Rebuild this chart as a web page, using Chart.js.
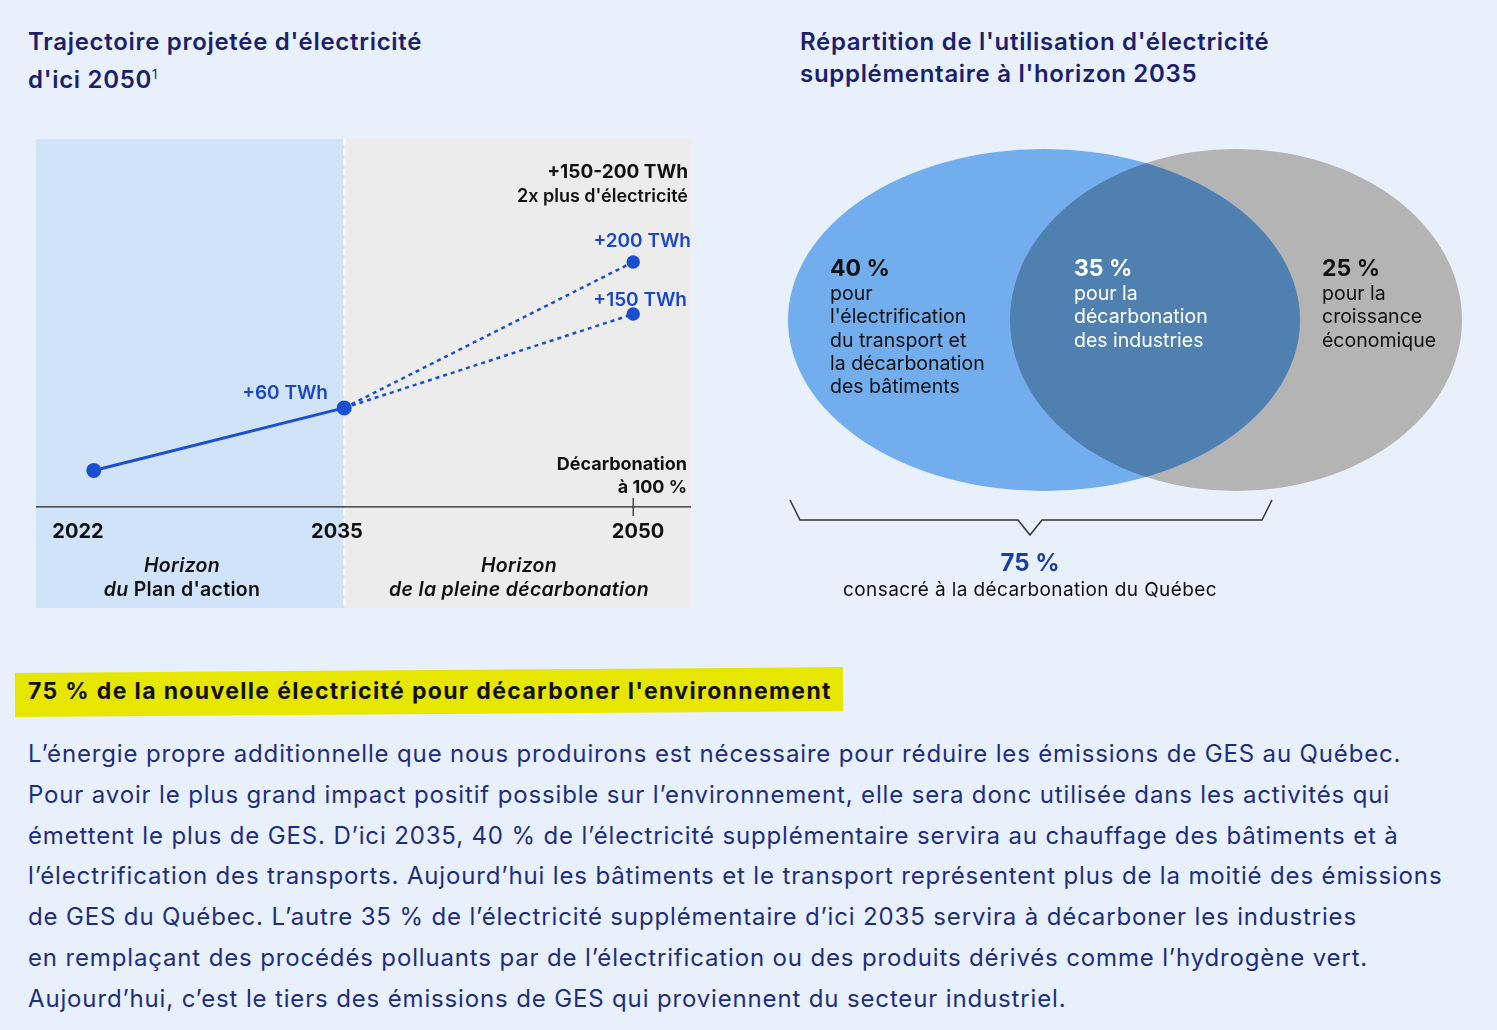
<!DOCTYPE html>
<html><head><meta charset="utf-8">
<script src="https://cdn.jsdelivr.net/npm/chart.js@4"></script>
<style>
body{margin:0;background:#e7f0fb;font-family:Inter,"Noto Sans",sans-serif;color:#1c1f6e;}
.a{position:absolute;white-space:nowrap;}
.t{font-weight:600;font-size:24px;line-height:32px;letter-spacing:0.7px;}
.r{text-align:right;transform:translateX(-100%);}
.c{transform:translateX(-50%);text-align:center;}
.body div{position:absolute;left:28px;font-size:24px;letter-spacing:0.85px;color:#1f2d80;white-space:nowrap;}
.vl{font-size:19.5px;line-height:23.3px;}
.vl b{font-size:23px;display:block;line-height:28px;}
canvas{position:absolute;}
</style></head><body>
<div class="a t" style="left:28px;top:26px">Trajectoire projetée d'électricité<br>d'ici 2050<sup style="font-size:13px;font-weight:400">1</sup></div>
<div class="a t" style="left:800px;top:26px">Répartition de l'utilisation d'électricité<br>supplémentaire à l'horizon 2035</div>
<canvas id="c1" width="673" height="487" style="left:27px;top:130px;width:673px;height:487px"></canvas>
<div class="a r" style="left:688px;top:160px;font-weight:700;font-size:19px;color:#111">+150-200 TWh</div>
<div class="a r" style="left:688px;top:185px;font-weight:600;font-size:18px;color:#111">2x plus d'électricité</div>
<div class="a r" style="left:691px;top:229px;font-weight:600;font-size:19px;color:#1a46c8">+200 TWh</div>
<div class="a r" style="left:687px;top:288px;font-weight:600;font-size:19px;color:#1a46c8">+150 TWh</div>
<div class="a r" style="left:328px;top:381px;font-weight:600;font-size:19px;color:#1a46c8">+60 TWh</div>
<div class="a r" style="left:687px;top:452px;font-weight:700;font-size:18px;color:#111;line-height:23px">Décarbonation<br>à 100 %</div>
<div class="a c" style="left:78px;top:519px;font-weight:700;font-size:20px;color:#111">2022</div>
<div class="a c" style="left:337px;top:519px;font-weight:700;font-size:20px;color:#111">2035</div>
<div class="a c" style="left:638px;top:519px;font-weight:700;font-size:20px;color:#111">2050</div>
<div class="a c" style="left:182px;top:553px;font-weight:600;font-style:italic;font-size:19.5px;color:#111;line-height:24px;letter-spacing:0.3px">Horizon<br>du <span style="font-style:normal">Plan d'action</span></div>
<div class="a c" style="left:519px;top:553px;font-weight:600;font-style:italic;font-size:19.5px;color:#111;line-height:24px;letter-spacing:0.3px">Horizon<br>de la pleine décarbonation</div>

<canvas id="c2" width="730" height="380" style="left:760px;top:130px;width:730px;height:380px"></canvas>
<div class="a vl" style="left:830px;top:254px;color:#111"><b>40 %</b>pour<br>l'électrification<br>du transport et<br>la décarbonation<br>des bâtiments</div>
<div class="a vl" style="left:1074px;top:254px;color:#fff"><b>35 %</b>pour la<br>décarbonation<br>des industries</div>
<div class="a vl" style="left:1322px;top:254px;color:#111"><b>25 %</b>pour la<br>croissance<br>économique</div>
<svg style="position:absolute;left:0;top:0" width="1497" height="560"><polyline points="790,500 800,520 1018,520 1030,535 1042,520 1262,520 1272,500" fill="none" stroke="#333" stroke-width="1.5"/></svg>
<div class="a c" style="left:1030px;top:548px;font-weight:700;font-size:24px;color:#1a3fa0">75 %</div>
<div class="a c" style="left:1030px;top:578px;font-size:19px;color:#111;letter-spacing:0.4px">consacré à la décarbonation du Québec</div>

<div style="position:absolute;left:15px;top:670px;width:828px;height:44px;background:#e6e600;transform:rotate(-0.4deg)"></div>
<div class="a" style="left:28px;top:677px;font-weight:700;font-size:23px;color:#111;letter-spacing:1.35px">75 % de la nouvelle électricité pour décarboner l'environnement</div>
<div class="body">
<div style="top:739px">L’énergie propre additionnelle que nous produirons est nécessaire pour réduire les émissions de GES au Québec.</div>
<div style="top:780px">Pour avoir le plus grand impact positif possible sur l’environnement, elle sera donc utilisée dans les activités qui</div>
<div style="top:821px">émettent le plus de GES. D’ici 2035, 40 % de l’électricité supplémentaire servira au chauffage des bâtiments et à</div>
<div style="top:861px">l’électrification des transports. Aujourd’hui les bâtiments et le transport représentent plus de la moitié des émissions</div>
<div style="top:902px">de GES du Québec. L’autre 35 % de l’électricité supplémentaire d’ici 2035 servira à décarboner les industries</div>
<div style="top:943px">en remplaçant des procédés polluants par de l’électrification ou des produits dérivés comme l’hydrogène vert.</div>
<div style="top:984px">Aujourd’hui, c’est le tiers des émissions de GES qui proviennent du secteur industriel.</div>
</div>
<script>
const years=[2022,2035,2050];
const base=[0,60];
const high=[60,200];
const low=[60,150];
const shares=[40,35,25];
const blue='#1a4fd0';
const bg={id:'bg',beforeDatasetsDraw(ch){const {ctx,chartArea:a,scales:{x,y}}=ch;const m=x.getPixelForValue(2035);
ctx.save();ctx.fillStyle='#d0e3f9';ctx.fillRect(a.left,a.top,m-a.left,a.bottom-a.top);
ctx.fillStyle='#ececec';ctx.fillRect(m,a.top,a.right-m,a.bottom-a.top);
ctx.strokeStyle='#fff';ctx.lineWidth=2;ctx.setLineDash([6,4]);ctx.beginPath();ctx.moveTo(m,a.top);ctx.lineTo(m,a.bottom);ctx.stroke();
ctx.setLineDash([]);const ay=y.getPixelForValue(-35);ctx.strokeStyle='#222';ctx.lineWidth=1.2;ctx.beginPath();ctx.moveTo(a.left,ay);ctx.lineTo(a.right,ay);
const t=x.getPixelForValue(2050);ctx.moveTo(t,ay-9);ctx.lineTo(t,ay+9);ctx.stroke();ctx.restore();}};
new Chart(document.getElementById('c1'),{type:'line',data:{datasets:[
{data:[{x:years[0],y:base[0]},{x:years[1],y:base[1]}],borderColor:blue,backgroundColor:blue,borderWidth:3,pointRadius:6},
{data:[{x:years[1],y:high[0]},{x:years[2],y:high[1]}],borderColor:blue,backgroundColor:blue,borderWidth:2.5,borderDash:[4,4],pointRadius:[0,5.5]},
{data:[{x:years[1],y:low[0]},{x:years[2],y:low[1]}],borderColor:blue,backgroundColor:blue,borderWidth:2.5,borderDash:[4,4],pointRadius:[0,5.5]}]},
options:{responsive:false,animation:false,layout:{padding:0},plugins:{legend:{display:false},tooltip:{enabled:false}},
scales:{x:{type:'linear',min:2019,max:2053,display:false},y:{min:-132,max:318,display:false}}},plugins:[bg]});
const venn={id:'venn',afterDraw(ch){const {ctx,scales:{x,y}}=ch;
const L={cx:x.getPixelForValue(1044),cy:y.getPixelForValue(320),rx:x.getPixelForValue(1300)-x.getPixelForValue(1044),ry:171};
const R={cx:x.getPixelForValue(1236),cy:y.getPixelForValue(320),rx:x.getPixelForValue(1462)-x.getPixelForValue(1236),ry:171};
const e=o=>{ctx.beginPath();ctx.ellipse(o.cx,o.cy,o.rx,o.ry,0,0,Math.PI*2);};
ctx.save();ctx.fillStyle='#b4b4b4';e(R);ctx.fill();ctx.fillStyle='#72adee';e(L);ctx.fill();
e(L);ctx.clip();ctx.fillStyle='#5080b0';e(R);ctx.fill();ctx.restore();}};
new Chart(document.getElementById('c2'),{type:'scatter',data:{datasets:[{data:shares.map((s,i)=>({x:900+i*200,y:320})),pointRadius:0}]},
options:{responsive:false,animation:false,layout:{padding:0},plugins:{legend:{display:false},tooltip:{enabled:false}},
scales:{x:{min:760,max:1490,display:false},y:{min:130,max:510,reverse:true,display:false}}},plugins:[venn]});
</script>
</body></html>
